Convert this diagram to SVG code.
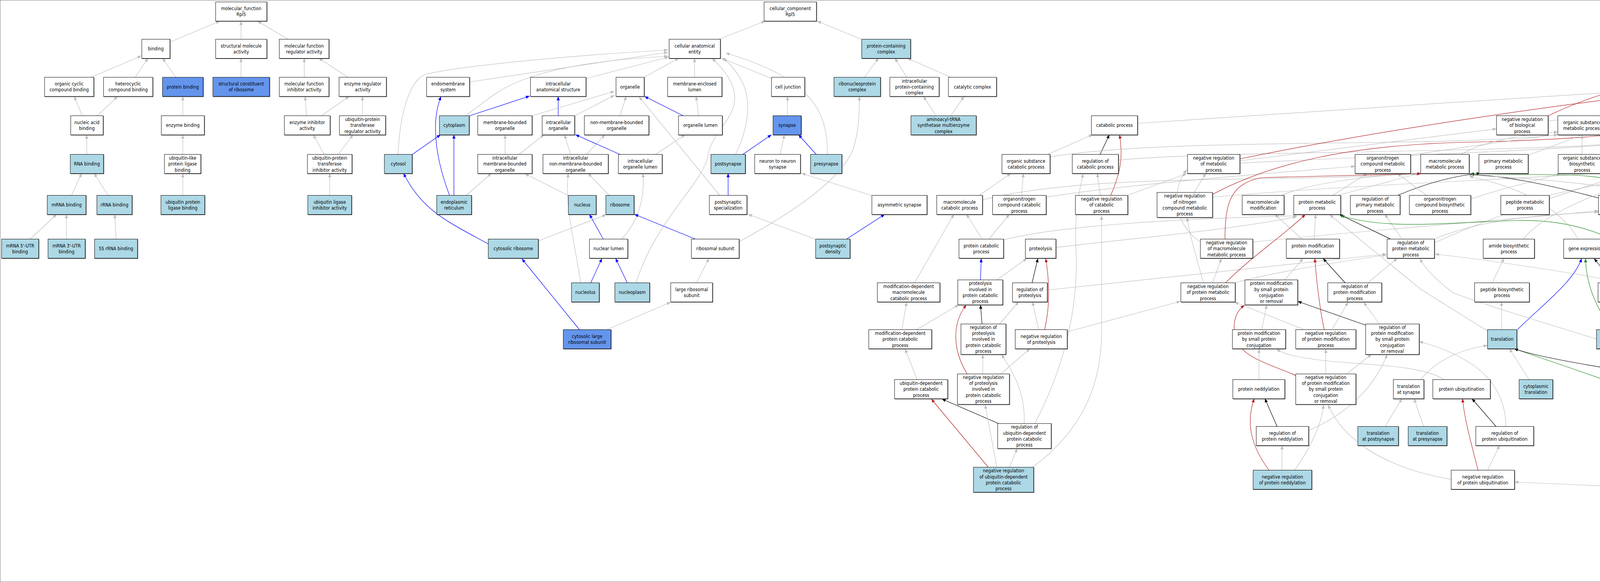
<svg xmlns="http://www.w3.org/2000/svg" width="7540" height="1491" viewBox="0 0 7540 1491">
<style>
rect{stroke:#000;stroke-width:1}
g[id^="n-"] rect{filter:drop-shadow(1.3px 1.3px 0 #555)}
.w{fill:#fff}.lb{fill:#ADD8E6}.cf{fill:#6495ED}
text{font-family:"DejaVu Sans Condensed","DejaVu Sans","Liberation Sans Narrow",sans-serif;font-stretch:condensed;font-size:12px;text-anchor:middle;fill:#000}
#edges path{fill:none;stroke-width:1.2}
.g{stroke:#BEBEBE;marker-end:url(#ag)}.b{stroke:#0000FF;marker-end:url(#ab)}.k{stroke:#000;marker-end:url(#ak)}.r{stroke:#B22222;marker-end:url(#ar)}.gr{stroke:#228B22;marker-end:url(#agr)}
</style>
<defs>
<marker id="ag" viewBox="0 0 10 8" refX="10" refY="4" markerWidth="10" markerHeight="8" markerUnits="userSpaceOnUse" orient="auto"><path d="M0,0L10,4L0,8z" fill="#BEBEBE"/></marker>
<marker id="ab" viewBox="0 0 10 8" refX="10" refY="4" markerWidth="10" markerHeight="8" markerUnits="userSpaceOnUse" orient="auto"><path d="M0,0L10,4L0,8z" fill="#0000FF"/></marker>
<marker id="ak" viewBox="0 0 10 8" refX="10" refY="4" markerWidth="10" markerHeight="8" markerUnits="userSpaceOnUse" orient="auto"><path d="M0,0L10,4L0,8z" fill="#000"/></marker>
<marker id="ar" viewBox="0 0 10 8" refX="10" refY="4" markerWidth="10" markerHeight="8" markerUnits="userSpaceOnUse" orient="auto"><path d="M0,0L10,4L0,8z" fill="#B22222"/></marker>
<marker id="agr" viewBox="0 0 10 8" refX="10" refY="4" markerWidth="10" markerHeight="8" markerUnits="userSpaceOnUse" orient="auto"><path d="M0,0L10,4L0,8z" fill="#228B22"/></marker>
</defs>
<rect x="0" y="0" width="7540" height="1491" fill="#fff" stroke="none"/>
<g id="edges">
<path class="g" d="M435,108L563,54"/>
<path class="g" d="M617,101L617,54"/>
<path class="g" d="M738,101L659,54"/>
<path class="g" d="M233,198L362,143"/>
<path class="g" d="M346,198L379,149"/>
<path class="g" d="M450,198L416,149"/>
<path class="g" d="M617,198L617,149"/>
<path class="g" d="M779,198L779,149"/>
<path class="g" d="M891,198L816,149"/>
<path class="g" d="M211,297L190,247"/>
<path class="g" d="M249,297L301,247"/>
<path class="g" d="M468,297L468,247"/>
<path class="g" d="M785,297L781,247"/>
<path class="g" d="M822,297L894,247"/>
<path class="g" d="M928,297L928,247"/>
<path class="g" d="M222,396L222,345"/>
<path class="g" d="M468,396L468,345"/>
<path class="g" d="M830,396L802,345"/>
<path class="g" d="M866,396L904,345"/>
<path class="g" d="M183,501L209,444"/>
<path class="g" d="M277,501L241,444"/>
<path class="g" d="M468,501L468,444"/>
<path class="g" d="M844,501L844,444"/>
<path class="g" d="M78,612L145,549"/>
<path class="g" d="M170,612L170,549"/>
<path class="g" d="M297,612L294,549"/>
<path class="g" d="M1839,101L1959,54"/>
<path class="g" d="M2206,101L2092,54"/>
<path class="g" d="M1019,396C1025,260 1060,200 1090,190C1200,165 1500,140 1710,128"/>
<path class="g" d="M1202,210L1710,134"/>
<path class="g" d="M1191,297L1256,249C1300,215 1400,160 1710,144"/>
<path class="g" d="M1500,201L1712,146"/>
<path class="g" d="M1649,198L1738,149"/>
<path class="g" d="M1778,198L1778,149"/>
<path class="g" d="M1975,201L1847,149"/>
<path class="g" d="M1628,725C1680,560 1800,470 1812,400C1820,340 1890,300 1880,240C1875,200 1840,165 1823,150"/>
<path class="g" d="M1883,396C1915,330 1925,260 1900,210C1885,180 1865,160 1851,150"/>
<path class="g" d="M2118,396C2120,290 2080,200 1858,136"/>
<path class="g" d="M2213,198L2249,149"/>
<path class="g" d="M2321,198L2291,149"/>
<path class="g" d="M2434,198L2323,149"/>
<path class="b" d="M1429,297L1429,247"/>
<path class="b" d="M1201,297L1356,246"/>
<path class="g" d="M1360,297L1573,234"/>
<path class="g" d="M1471,297L1573,244"/>
<path class="g" d="M1587,297L1603,247"/>
<path class="b" d="M1750,297L1650,247"/>
<path class="g" d="M1789,297L1782,247"/>
<path class="g" d="M2016,297L2016,247"/>
<path class="g" d="M2396,297L2364,247"/>
<path class="g" d="M2434,297L2468,247"/>
<path class="b" d="M1055,396L1128,345"/>
<path class="g" d="M1293,396L1293,345"/>
<path class="g" d="M1328,396L1393,345"/>
<path class="g" d="M1461,396L1445,345"/>
<path class="g" d="M1501,396L1549,345"/>
<path class="b" d="M1588,396L1473,345"/>
<path class="g" d="M1678,396L1754,345"/>
<path class="b" d="M1901,396L1975,345"/>
<path class="g" d="M1997,396L2008,345"/>
<path class="b" d="M2090,396L2044,345"/>
<path class="b" d="M1151,501C1120,420 1100,320 1129,247"/>
<path class="b" d="M1162,501L1162,345"/>
<path class="g" d="M1193,501L1258,444"/>
<path class="g" d="M1455,501L1344,445"/>
<path class="g" d="M1560,501L1505,444"/>
<path class="b" d="M1864,501L1864,444"/>
<path class="g" d="M1843,501L1636,248"/>
<path class="g" d="M2232,501L2052,444"/>
<path class="g" d="M1378,617L1552,550"/>
<path class="b" d="M1250,625C1150,570 1080,540 1033,444"/>
<path class="b" d="M1544,612L1509,549"/>
<path class="g" d="M1592,612C1640,560 1650,500 1646,444"/>
<path class="b" d="M1779,612L1624,549"/>
<path class="g" d="M1891,620C2000,560 2150,470 2185,380C2200,330 2200,280 2200,247"/>
<path class="g" d="M2086,612L1915,549"/>
<path class="b" d="M2168,612L2265,549"/>
<path class="g" d="M1487,725C1470,620 1445,520 1455,444"/>
<path class="b" d="M1512,725L1541,662"/>
<path class="b" d="M1606,725L1576,662"/>
<path class="g" d="M1783,725L1815,662"/>
<path class="b" d="M1483,844L1336,663"/>
<path class="g" d="M1555,844L1717,774"/>
<path class="g" d="M2506,501L2588,444"/>
<path class="g" d="M2515,512C2800,440 3300,470 3640,444"/>
<path class="g" d="M2341,725L2442,549"/>
<path class="g" d="M2514,612L2474,549"/>
<path class="b" d="M2510,717L2512,662"/>
<path class="g" d="M2309,844L2321,774"/>
<path class="g" d="M2347,844L2454,781"/>
<path class="k" d="M2514,830L2510,781"/>
<path class="g" d="M2348,973L2317,894"/>
<path class="r" d="M2476,958C2440,900 2435,830 2474,781"/>
<path class="g" d="M2516,958L2516,908"/>
<path class="k" d="M2556,1085L2411,1022"/>
<path class="r" d="M2530,1197L2384,1022"/>
<path class="g" d="M2532,612L2584,549"/>
<path class="g" d="M2568,615C2700,580 3000,560 3320,553"/>
<path class="g" d="M2703,634C2900,610 3150,590 3320,555"/>
<path class="g" d="M2552,717L2629,662"/>
<path class="k" d="M2642,725L2657,662"/>
<path class="r" d="M2674,845C2690,780 2685,710 2677,662"/>
<path class="g" d="M2681,743L3549,651"/>
<path class="g" d="M2559,830L2608,773"/>
<path class="g" d="M2659,845L2643,773"/>
<path class="g" d="M2732,850L3022,772"/>
<path class="g" d="M2562,958L2637,893"/>
<path class="g" d="M2622,1085C2625,1000 2590,950 2564,908"/>
<path class="g" d="M2584,1197L2604,1149"/>
<path class="g" d="M2552,1197L2522,1037"/>
<path class="g" d="M2649,1085C2720,950 2760,800 2755,650C2750,560 2760,500 2773,445"/>
<path class="g" d="M2645,1196C2760,1110 2820,1000 2820,850L2820,553"/>
<path class="g" d="M2912,316C3300,290 3900,250 4308,225"/>
<path class="g" d="M2681,396L2797,345"/>
<path class="k" d="M2816,396L2840,345"/>
<path class="r" d="M2843,501C2870,440 2875,400 2866,345"/>
<path class="g" d="M2688,402C3000,350 3700,380 3988,345"/>
<path class="g" d="M2863,410C3200,380 4000,400 4390,345"/>
<path class="r" d="M3174,407C3500,340 3900,280 4308,231"/>
<path class="g" d="M3174,412L3831,330"/>
<path class="g" d="M3174,418C3500,400 4100,385 4398,345"/>
<path class="g" d="M2615,501L2620,444"/>
<path class="g" d="M2678,505C2900,470 3300,440 3469,426"/>
<path class="g" d="M2817,501L2809,444"/>
<path class="g" d="M2887,500L3038,445"/>
<path class="g" d="M3057,493L3087,444"/>
<path class="r" d="M3104,498C3250,420 3450,370 3772,364C3950,360 4100,350 4228,335"/>
<path class="g" d="M3104,505C3500,470 3900,460 4140,440"/>
<path class="g" d="M3280,501C3350,470 3500,450 3625,445"/>
<path class="g" d="M3411,501L3501,444"/>
<path class="g" d="M3424,501L3633,444"/>
<path class="k" d="M3577,501C3650,470 3720,450 3790,444"/>
<path class="g" d="M3652,501L3577,444"/>
<path class="g" d="M3765,510C3850,480 3950,460 3995,444"/>
<path class="g" d="M3611,397C3800,370 3900,355 3988,345"/>
<path class="g" d="M3740,396C3800,360 3900,345 3988,338"/>
<path class="g" d="M3073,620C3000,570 3000,480 3038,435"/>
<path class="r" d="M3136,612C3136,520 3150,470 3230,455L3638,445"/>
<path class="g" d="M3207,620C3500,590 3900,560 4092,540"/>
<path class="g" d="M3332,612L3264,549"/>
<path class="g" d="M3364,612L3368,549"/>
<path class="k" d="M3559,612L3428,549"/>
<path class="g" d="M3589,612L3545,549"/>
<path class="g" d="M3672,612C3800,560 3950,550 4092,543"/>
<path class="g" d="M3672,622C3900,520 4100,470 4160,444"/>
<path class="gr" d="M4278,725C4180,620 4050,560 3880,565C3700,570 3550,590 3432,552"/>
<path class="gr" d="M4343,612C4300,520 4200,450 4000,448L3763,445"/>
<path class="g" d="M3104,725L3127,662"/>
<path class="g" d="M3081,725C3060,650 3045,600 3039,557"/>
<path class="r" d="M3137,725C3200,660 3290,600 3342,549"/>
<path class="g" d="M3162,724C3250,700 3400,675 3549,653"/>
<path class="g" d="M3288,718L3336,662"/>
<path class="k" d="M3444,725L3387,662"/>
<path class="g" d="M3501,725L3577,662"/>
<path class="r" d="M3390,844C3380,800 3370,720 3366,662"/>
<path class="g" d="M3230,844L3243,781"/>
<path class="g" d="M3338,844L3160,774"/>
<path class="g" d="M3410,844L3451,774"/>
<path class="k" d="M3496,833L3322,772"/>
<path class="g" d="M3531,830L3491,774"/>
<path class="r" d="M3317,962C3270,940 3190,920 3170,880C3150,840 3160,800 3186,782"/>
<path class="g" d="M3394,958L3394,894"/>
<path class="g" d="M3447,958L3511,908"/>
<path class="g" d="M3223,973L3223,894"/>
<path class="k" d="M3270,1094L3238,1021"/>
<path class="g" d="M3350,1103C3450,1060 3520,990 3551,908"/>
<path class="r" d="M3249,1205C3200,1140 3190,1080 3211,1021"/>
<path class="g" d="M3282,1205L3282,1141"/>
<path class="g" d="M3314,1205C3360,1140 3385,1080 3388,1037"/>
<path class="g" d="M3636,973C3680,920 3740,895 3808,885"/>
<path class="g" d="M3545,1094L3589,1021"/>
<path class="g" d="M3645,1094L3620,1021"/>
<path class="g" d="M3698,973C3640,935 3500,935 3400,925C3320,915 3290,910 3268,894"/>
<path class="g" d="M3715,1228C3550,1200 3440,1130 3400,1037"/>
<path class="r" d="M3784,1205C3770,1150 3750,1080 3744,1021"/>
<path class="k" d="M3831,1094L3768,1021"/>
<path class="g" d="M3855,1094C3855,1000 3800,920 3633,875"/>
<path class="g" d="M3808,1205L3839,1141"/>
<path class="g" d="M6220,1337L3877,1235"/>
<path class="g" d="M3808,848L3637,741L3404,550"/>
<path class="g" d="M4434,214C4900,150 5500,80 6137,38"/>
<path class="r" d="M3963,297C4200,180 4700,100 5100,80C5500,55 5900,32 6137,31"/>
<path class="g" d="M3963,310C4300,270 5000,265 6240,240"/>
<path class="g" d="M4114,301L4307,244"/>
<path class="g" d="M4313,297L4351,247"/>
<path class="k" d="M4429,297L4391,247"/>
<path class="g" d="M4537,297L4423,247"/>
<path class="g" d="M4509,305C4800,270 5600,262 6240,244"/>
<path class="g" d="M5519,316C5200,290 4800,260 4434,230"/>
<path class="g" d="M5641,316L6491,234"/>
<path class="g" d="M3913,397C4100,330 4200,280 4307,246"/>
<path class="g" d="M4050,396L4050,345"/>
<path class="g" d="M4112,400C4300,370 4450,355 4524,344"/>
<path class="k" d="M4226,396L4270,345"/>
<path class="g" d="M4268,405C4330,380 4370,360 4395,345"/>
<path class="g" d="M4337,396L4315,345"/>
<path class="k" d="M4580,396L4580,345"/>
<path class="g" d="M4544,396L4483,345"/>
<path class="g" d="M4725,396L4632,345"/>
<path class="g" d="M4840,400C5100,380 5350,350 5519,335"/>
<path class="g" d="M4864,405C4500,370 4200,355 4114,345"/>
<path class="gr" d="M4584,493L4339,347"/>
<path class="g" d="M4564,505C4400,480 4300,460 4268,444"/>
<path class="g" d="M4706,500C4900,460 5100,440 5230,444"/>
<path class="gr" d="M4885,501C4800,470 4730,450 4692,431C4650,400 4620,370 4600,347"/>
<path class="g" d="M4883,510C4750,470 4650,450 4624,444"/>
<path class="g" d="M5011,505C5100,480 5200,460 5240,444"/>
<path class="gr" d="M5383,605C5420,540 5400,470 5250,455L4841,445"/>
<path class="gr" d="M5198,410C5000,350 4700,290 4434,234"/>
<path class="gr" d="M4803,612C4780,540 4700,480 4600,470C4500,460 4450,440 4411,433"/>
<path class="g" d="M3966,500C4100,470 4200,450 4283,443"/>
<path class="k" d="M4092,507C3950,470 3850,450 3763,447"/>
<path class="g" d="M4217,500C4300,440 4360,380 4379,345"/>
<path class="g" d="M4292,508C4100,470 3900,455 3761,449"/>
<path class="g" d="M4370,501C4450,430 4530,400 4560,347"/>
<path class="k" d="M4451,501L4383,444"/>
<path class="g" d="M4500,501L4470,345"/>
<path class="g" d="M4330,612L4215,549"/>
<path class="g" d="M4440,620C4700,560 5000,500 5200,444"/>
<path class="k" d="M4467,605L4383,549"/>
<path class="g" d="M4520,605C4560,540 4580,480 4580,444"/>
<path class="g" d="M4464,615L4217,545"/>
<path class="g" d="M4760,612L4539,549"/>
<path class="g" d="M4040,612C4000,540 3900,480 3761,452"/>
<path class="b" d="M3885,844C3950,780 4030,720 4049,662"/>
<path class="gr" d="M4126,844C4080,780 4060,720 4059,662"/>
<path class="k" d="M4130,725L4081,662"/>
<path class="b" d="M5090,864C4800,840 4520,780 4400,720C4300,680 4200,660 4118,651"/>
<path class="g" d="M4150,725L4154,549"/>
<path class="g" d="M4229,740C4050,700 3800,665 3674,651"/>
<path class="g" d="M4290,725L4325,662"/>
<path class="gr" d="M4612,718C4610,660 4560,620 4500,610C4440,600 4410,580 4395,549"/>
<path class="g" d="M4560,718L4530,670"/>
<path class="g" d="M4544,730L4440,662"/>
<path class="g" d="M3820,725L3850,662"/>
<path class="g" d="M3900,612C3950,550 4100,480 4290,440"/>
<path class="g" d="M3844,844L3844,773"/>
<path class="g" d="M3915,973L3864,893"/>
<path class="gr" d="M4442,1099C4200,1000 3950,920 3876,893"/>
<path class="k" d="M4461,992C4200,960 3950,920 3876,893"/>
<path class="g" d="M4467,973L4351,893"/>
<path class="g" d="M4506,973L4510,670"/>
<path class="g" d="M4461,985C4200,900 3850,800 3720,750C3680,720 3650,690 3635,663"/>
<path class="g" d="M4545,975C4640,880 4690,760 4680,650C4670,600 4560,570 4530,549"/>
<path class="g" d="M4505,1094L4505,1021"/>
<path class="g" d="M4467,1094L4190,893"/>
<path class="g" d="M4483,1094C4450,950 4400,850 4339,774"/>
<path class="g" d="M4528,1094C4560,950 4600,850 4608,781"/>
<path class="g" d="M4550,1094C4700,950 5000,790 5265,663"/>
<path class="g" d="M4540,1094C4650,950 4750,800 4797,662"/>
<path class="g" d="M4150,844L4150,773"/>
<path class="g" d="M4198,844C4300,830 4390,790 4395,741L4387,662"/>
<path class="g" d="M4276,844L4186,773"/>
<path class="g" d="M6200,101L6200,54"/>
<path class="g" d="M6133,198L6178,149"/>
<path class="g" d="M6282,198L6230,149"/>
<path class="k" d="M6307,198C6310,120 6290,80 6262,54"/>
<path class="g" d="M6497,198L6263,44"/>
<path class="g" d="M6789,198L6265,50"/>
<path class="gr" d="M5985,297C6020,200 6080,120 6170,54"/>
<path class="g" d="M6035,299L6242,239"/>
<path class="g" d="M6113,297L6113,247"/>
<path class="g" d="M6113,396L6113,345"/>
<path class="g" d="M5172,397L5518,335"/>
<path class="g" d="M5030,405C4800,380 4500,370 4359,345"/>
<path class="g" d="M5198,400C5000,370 4700,350 4509,345"/>
<path class="g" d="M5325,405C5600,360 5800,340 5908,325"/>
<path class="g" d="M5462,396L5538,345"/>
<path class="g" d="M5579,396L5579,345"/>
<path class="k" d="M5691,396L5619,345"/>
<path class="g" d="M5667,405C5300,370 4800,350 4509,348"/>
<path class="g" d="M5789,407L6346,330"/>
<path class="g" d="M5865,397L5643,340"/>
<path class="g" d="M6200,397L6037,344"/>
<path class="gr" d="M6285,396C6300,320 6360,270 6491,231"/>
<path class="g" d="M6296,396L6364,345"/>
<path class="g" d="M5108,501L5104,444"/>
<path class="g" d="M5036,510C4950,480 4880,460 4840,450"/>
<path class="k" d="M5269,505C5150,490 5000,475 4841,447"/>
<path class="g" d="M5407,500L5667,443"/>
<path class="g" d="M5269,512C5000,480 4700,460 4624,444"/>
<path class="g" d="M5526,501L5456,444"/>
<path class="g" d="M5565,501L5575,444"/>
<path class="g" d="M5484,510C5300,470 5200,455 5172,444"/>
<path class="g" d="M5484,518C5200,480 5050,450 5006,444"/>
<path class="gr" d="M5757,501C5800,440 5830,380 5780,350C5740,330 5680,325 5643,325"/>
<path class="g" d="M5727,501L5727,444"/>
<path class="g" d="M5662,505C5500,470 5360,455 5325,444"/>
<path class="g" d="M5789,505L6198,443"/>
<path class="k" d="M5940,501L5940,444"/>
<path class="g" d="M5894,501L5780,444"/>
<path class="g" d="M6073,501L5981,444"/>
<path class="gr" d="M5751,612C5800,550 5850,480 5908,444"/>
<path class="g" d="M5726,612L5726,549"/>
<path class="g" d="M5773,612L5892,549"/>
<path class="k" d="M5977,612L6073,549"/>
<path class="g" d="M5938,612L5938,549"/>
<path class="g" d="M6100,612L6109,549"/>
<path class="g" d="M6280,612L6352,549"/>
<path class="g" d="M6340,501C6300,400 6230,250 6207,149"/>
<path class="g" d="M6376,297L6332,247"/>
<path class="k" d="M6437,297L6509,247"/>
<path class="g" d="M6477,299L6360,247"/>
<path class="g" d="M6618,297L6573,247"/>
<path class="k" d="M6831,297L6831,247"/>
<path class="g" d="M6786,306L6368,234"/>
<path class="g" d="M6927,297L6863,247"/>
<path class="g" d="M6899,297L6602,230"/>
<path class="g" d="M7057,297L6602,232"/>
<path class="k" d="M6465,396L6497,345"/>
<path class="g" d="M6404,400C6330,380 6300,320 6308,247"/>
<path class="k" d="M6599,396L6627,345"/>
<path class="g" d="M6539,396L6449,345"/>
<path class="b" d="M6680,396L6553,345"/>
<path class="b" d="M6718,396L6670,345"/>
<path class="b" d="M6794,396L6903,345"/>
<path class="g" d="M6745,396C6750,320 6700,260 6606,234"/>
<path class="g" d="M6676,397L6453,344"/>
<path class="g" d="M7122,396L7122,345"/>
<path class="g" d="M7242,396L7164,345"/>
<path class="g" d="M6599,501L6493,444"/>
<path class="g" d="M6628,501L6600,444"/>
<path class="k" d="M6666,501L6718,444"/>
<path class="g" d="M6698,501C6790,460 6835,420 6835,345"/>
<path class="g" d="M6784,501L6758,444"/>
<path class="g" d="M7160,501L7245,444"/>
<path class="b" d="M7251,501L7163,444"/>
<path class="g" d="M7285,501L7283,444"/>
<path class="g" d="M7413,501L7323,444"/>
<path class="g" d="M7009,612C7010,530 7040,480 7080,444"/>
<path class="g" d="M6395,612L6387,549"/>
<path class="g" d="M6509,612L6423,549"/>
<path class="g" d="M6682,612L6658,549"/>
<path class="k" d="M6720,612L6774,549"/>
<path class="g" d="M6839,612L6812,549"/>
<path class="g" d="M7159,612L7136,549"/>
<path class="g" d="M7196,612L7261,549"/>
<path class="g" d="M7317,612L7299,549"/>
<path class="g" d="M7353,612L7421,549"/>
<path class="g" d="M7468,612L7458,549"/>
<path class="k" d="M6015,725L6073,662"/>
<path class="g" d="M5981,725L5952,662"/>
<path class="g" d="M5776,725L5743,662"/>
<path class="g" d="M5824,725L5904,662"/>
<path class="gr" d="M5794,725C5800,650 5850,580 5950,565C6000,560 6030,555 6045,549"/>
<path class="g" d="M6204,735L6344,663"/>
<path class="g" d="M6316,725L6372,662"/>
<path class="g" d="M6262,725L6262,662"/>
<path class="g" d="M6477,725L6425,662"/>
<path class="g" d="M6511,725L6532,662"/>
<path class="g" d="M6589,723L6453,662"/>
<path class="g" d="M6754,717L6718,662"/>
<path class="k" d="M6798,717L6835,662"/>
<path class="g" d="M6951,725L6991,662"/>
<path class="g" d="M7167,725L7167,662"/>
<path class="b" d="M7281,725L7076,662"/>
<path class="g" d="M7333,725L7329,662"/>
<path class="g" d="M7369,725L7442,662"/>
<path class="g" d="M5151,844L5170,773"/>
<path class="g" d="M5259,844L5205,773"/>
<path class="g" d="M5178,725L5178,662"/>
<path class="g" d="M5241,617L5484,545"/>
<path class="g" d="M5199,973L5159,893"/>
<path class="g" d="M5227,973L5265,893"/>
<path class="g" d="M5339,973L5300,893"/>
<path class="g" d="M5324,1094L5245,1021"/>
<path class="g" d="M5353,1094L5353,1021"/>
<path class="b" d="M5410,1113C5800,1080 6000,1050 6117,1035C6300,985 6500,930 6570,910C6620,880 6620,830 6680,800C6750,780 6820,790 6875,773"/>
<path class="gr" d="M5889,844C5880,760 5950,700 6038,662"/>
<path class="g" d="M5913,844L5971,773"/>
<path class="g" d="M5872,844L5816,773"/>
<path class="g" d="M6025,844L6005,773"/>
<path class="g" d="M6057,844L6120,773"/>
<path class="g" d="M6161,844L6149,773"/>
<path class="g" d="M6231,844L6425,773"/>
<path class="g" d="M6006,973L5922,893"/>
<path class="g" d="M6034,973L6034,893"/>
<path class="g" d="M6061,973L6141,893"/>
<path class="g" d="M5339,605L5339,549"/>
<path class="g" d="M5403,622L5659,553"/>
<path class="g" d="M5275,620C5150,580 5050,560 5011,549"/>
<path class="g" d="M6402,1092L6399,662"/>
<path class="g" d="M6499,844L6499,773"/>
<path class="g" d="M6528,844L6606,773"/>
<path class="g" d="M6682,844L6651,773"/>
<path class="b" d="M6994,844L6954,773"/>
<path class="g" d="M7013,844L7014,662"/>
<path class="b" d="M7120,844L6983,773"/>
<path class="g" d="M7166,844L7166,773"/>
<path class="b" d="M7136,973L7042,893"/>
<path class="b" d="M7166,973L7166,893"/>
<path class="g" d="M7190,973C7250,880 7300,820 7323,773"/>
<path class="g" d="M6529,973L6654,893"/>
<path class="g" d="M6644,973L6680,893"/>
<path class="g" d="M6606,973L6529,893"/>
<path class="g" d="M6761,973L6714,893"/>
<path class="g" d="M6872,973L6740,893"/>
<path class="g" d="M6556,1094L6511,1021"/>
<path class="g" d="M6585,1094L6618,1021"/>
<path class="g" d="M6720,1094L6658,1021"/>
<path class="g" d="M6750,1094L6766,1021"/>
<path class="g" d="M6843,1094L6680,1021"/>
<path class="g" d="M6911,1094L6913,1021"/>
<path class="g" d="M6286,1204L6292,773"/>
<path class="g" d="M6312,1205L6375,1141"/>
<path class="g" d="M6425,1197L6410,1141"/>
<path class="g" d="M6286,1309L6286,1254"/>
<path class="g" d="M6330,1309L6391,1261"/>
<path class="g" d="M6434,1317L6434,1261"/>
<path class="g" d="M6338,1421L6310,1373"/>
<path class="g" d="M6382,1421L6415,1366"/>
</g>
<g id="n-mf"><rect class="w" x="552" y="5" width="131" height="49"/><text x="617.5" y="26.15"><tspan x="617.5">molecular_function</tspan><tspan x="617.5" dy="15.3">Rpl5</tspan></text></g>
<g id="n-binding"><rect class="w" x="363" y="100.5" width="72" height="49"/><text x="399" y="129.3">binding</text></g>
<g id="n-sma"><rect class="w" x="552" y="100.5" width="131" height="49"/><text x="617.5" y="121.65"><tspan x="617.5">structural molecule</tspan><tspan x="617.5" dy="15.3">activity</tspan></text></g>
<g id="n-mfra"><rect class="w" x="715" y="100.5" width="127" height="49"/><text x="778.5" y="121.65"><tspan x="778.5">molecular function</tspan><tspan x="778.5" dy="15.3">regulator activity</tspan></text></g>
<g id="n-occb"><rect class="w" x="114" y="198" width="126" height="49"/><text x="177" y="219.15"><tspan x="177">organic cyclic</tspan><tspan x="177" dy="15.3">compound binding</tspan></text></g>
<g id="n-hcb"><rect class="w" x="265" y="198" width="126" height="49"/><text x="328" y="219.15"><tspan x="328">heterocyclic</tspan><tspan x="328" dy="15.3">compound binding</tspan></text></g>
<g id="n-pb"><rect class="cf" x="416" y="198" width="104" height="49"/><text x="468" y="226.8">protein binding</text></g>
<g id="n-scr"><rect class="cf" x="545" y="198" width="145" height="49"/><text x="617.5" y="219.15"><tspan x="617.5">structural constituent</tspan><tspan x="617.5" dy="15.3">of ribosome</tspan></text></g>
<g id="n-mfia"><rect class="w" x="715" y="198" width="127" height="49"/><text x="778.5" y="219.15"><tspan x="778.5">molecular function</tspan><tspan x="778.5" dy="15.3">inhibitor activity</tspan></text></g>
<g id="n-era"><rect class="w" x="868" y="198" width="121" height="49"/><text x="928.5" y="219.15"><tspan x="928.5">enzyme regulator</tspan><tspan x="928.5" dy="15.3">activity</tspan></text></g>
<g id="n-nab"><rect class="w" x="181" y="296.5" width="83" height="49"/><text x="222.5" y="317.65"><tspan x="222.5">nucleic acid</tspan><tspan x="222.5" dy="15.3">binding</tspan></text></g>
<g id="n-eb"><rect class="w" x="413" y="296.5" width="110" height="49"/><text x="468" y="325.3">enzyme binding</text></g>
<g id="n-eia"><rect class="w" x="728" y="296.5" width="117" height="49"/><text x="786.5" y="317.65"><tspan x="786.5">enzyme inhibitor</tspan><tspan x="786.5" dy="15.3">activity</tspan></text></g>
<g id="n-uptra"><rect class="w" x="869" y="296.5" width="118" height="49"/><text x="928" y="310"><tspan x="928">ubiquitin-protein</tspan><tspan x="928" dy="15.3">transferase</tspan><tspan x="928" dy="15.3">regulator activity</tspan></text></g>
<g id="n-rnab"><rect class="lb" x="180" y="395.5" width="85" height="49"/><text x="222.5" y="424.3">RNA binding</text></g>
<g id="n-ulplb"><rect class="w" x="421" y="395.5" width="93" height="49"/><text x="467.5" y="409"><tspan x="467.5">ubiquitin-like</tspan><tspan x="467.5" dy="15.3">protein ligase</tspan><tspan x="467.5" dy="15.3">binding</tspan></text></g>
<g id="n-uptia"><rect class="w" x="787" y="395.5" width="114" height="49"/><text x="844" y="409"><tspan x="844">ubiquitin-protein</tspan><tspan x="844" dy="15.3">transferase</tspan><tspan x="844" dy="15.3">inhibitor activity</tspan></text></g>
<g id="n-mrnab"><rect class="lb" x="121" y="500.5" width="99" height="49"/><text x="170.5" y="529.3">mRNA binding</text></g>
<g id="n-rrnab"><rect class="lb" x="248" y="500.5" width="90" height="49"/><text x="293" y="529.3">rRNA binding</text></g>
<g id="n-uplb"><rect class="lb" x="412" y="500.5" width="112" height="49"/><text x="468" y="521.65"><tspan x="468">ubiquitin protein</tspan><tspan x="468" dy="15.3">ligase binding</tspan></text></g>
<g id="n-ulia"><rect class="lb" x="788" y="500.5" width="112" height="49"/><text x="844" y="521.65"><tspan x="844">ubiquitin ligase</tspan><tspan x="844" dy="15.3">inhibitor activity</tspan></text></g>
<g id="n-m5"><rect class="lb" x="4" y="612.5" width="95" height="49"/><text x="51.5" y="633.65"><tspan x="51.5">mRNA 5'-UTR</tspan><tspan x="51.5" dy="15.3">binding</tspan></text></g>
<g id="n-m3"><rect class="lb" x="123" y="612.5" width="95" height="49"/><text x="170.5" y="633.65"><tspan x="170.5">mRNA 3'-UTR</tspan><tspan x="170.5" dy="15.3">binding</tspan></text></g>
<g id="n-s5"><rect class="lb" x="242" y="612.5" width="110" height="49"/><text x="297" y="641.3">5S rRNA binding</text></g>
<g id="n-cc"><rect class="w" x="1956" y="5" width="134" height="49"/><text x="2023" y="26.15"><tspan x="2023">cellular_component</tspan><tspan x="2023" dy="15.3">Rpl5</tspan></text></g>
<g id="n-cae"><rect class="w" x="1713" y="100.5" width="131" height="49"/><text x="1778.5" y="121.65"><tspan x="1778.5">cellular anatomical</tspan><tspan x="1778.5" dy="15.3">entity</tspan></text></g>
<g id="n-pcc"><rect class="lb" x="2206" y="100.5" width="125" height="49"/><text x="2268.5" y="121.65"><tspan x="2268.5">protein-containing</tspan><tspan x="2268.5" dy="15.3">complex</tspan></text></g>
<g id="n-ems"><rect class="w" x="1092" y="198" width="110" height="49"/><text x="1147" y="219.15"><tspan x="1147">endomembrane</tspan><tspan x="1147" dy="15.3">system</tspan></text></g>
<g id="n-ias"><rect class="w" x="1358" y="198" width="142" height="49"/><text x="1429" y="219.15"><tspan x="1429">intracellular</tspan><tspan x="1429" dy="15.3">anatomical structure</tspan></text></g>
<g id="n-organelle"><rect class="w" x="1577" y="198" width="72" height="49"/><text x="1613" y="226.8">organelle</text></g>
<g id="n-mel"><rect class="w" x="1709" y="198" width="139" height="49"/><text x="1778.5" y="219.15"><tspan x="1778.5">membrane-enclosed</tspan><tspan x="1778.5" dy="15.3">lumen</tspan></text></g>
<g id="n-cj"><rect class="w" x="1975" y="198" width="85" height="49"/><text x="2017.5" y="226.8">cell junction</text></g>
<g id="n-rnpc"><rect class="lb" x="2135" y="198" width="119" height="49"/><text x="2194.5" y="219.15"><tspan x="2194.5">ribonucleoprotein</tspan><tspan x="2194.5" dy="15.3">complex</tspan></text></g>
<g id="n-ipcc"><rect class="w" x="2278" y="198" width="126" height="49"/><text x="2341" y="211.5"><tspan x="2341">intracellular</tspan><tspan x="2341" dy="15.3">protein-containing</tspan><tspan x="2341" dy="15.3">complex</tspan></text></g>
<g id="n-catc"><rect class="w" x="2428" y="198" width="123" height="49"/><text x="2489.5" y="226.8">catalytic complex</text></g>
<g id="n-cytoplasm"><rect class="lb" x="1125" y="296.5" width="76" height="49"/><text x="1163" y="325.3">cytoplasm</text></g>
<g id="n-mbo"><rect class="w" x="1223" y="296.5" width="139" height="49"/><text x="1292.5" y="317.65"><tspan x="1292.5">membrane-bounded</tspan><tspan x="1292.5" dy="15.3">organelle</tspan></text></g>
<g id="n-io"><rect class="w" x="1388" y="296.5" width="83" height="49"/><text x="1429.5" y="317.65"><tspan x="1429.5">intracellular</tspan><tspan x="1429.5" dy="15.3">organelle</tspan></text></g>
<g id="n-nmbo"><rect class="w" x="1496" y="296.5" width="165" height="49"/><text x="1578.5" y="317.65"><tspan x="1578.5">non-membrane-bounded</tspan><tspan x="1578.5" dy="15.3">organelle</tspan></text></g>
<g id="n-ol"><rect class="w" x="1737" y="296.5" width="112" height="49"/><text x="1793" y="325.3">organelle lumen</text></g>
<g id="n-synapse"><rect class="cf" x="1979" y="296.5" width="72" height="49"/><text x="2015" y="325.3">synapse</text></g>
<g id="n-atsmc"><rect class="lb" x="2332" y="296.5" width="167" height="49"/><text x="2415.5" y="310"><tspan x="2415.5">aminoacyl-tRNA</tspan><tspan x="2415.5" dy="15.3">synthetase multienzyme</tspan><tspan x="2415.5" dy="15.3">complex</tspan></text></g>
<g id="n-cytosol"><rect class="lb" x="984" y="395.5" width="71" height="49"/><text x="1019.5" y="424.3">cytosol</text></g>
<g id="n-imbo"><rect class="w" x="1223" y="395.5" width="139" height="49"/><text x="1292.5" y="409"><tspan x="1292.5">intracellular</tspan><tspan x="1292.5" dy="15.3">membrane-bounded</tspan><tspan x="1292.5" dy="15.3">organelle</tspan></text></g>
<g id="n-inmbo"><rect class="w" x="1390" y="395.5" width="167" height="49"/><text x="1473.5" y="409"><tspan x="1473.5">intracellular</tspan><tspan x="1473.5" dy="15.3">non-membrane-bounded</tspan><tspan x="1473.5" dy="15.3">organelle</tspan></text></g>
<g id="n-iol"><rect class="w" x="1583" y="395.5" width="112" height="49"/><text x="1639" y="416.65"><tspan x="1639">intracellular</tspan><tspan x="1639" dy="15.3">organelle lumen</tspan></text></g>
<g id="n-postsynapse"><rect class="lb" x="1820" y="395.5" width="88" height="49"/><text x="1864" y="424.3">postsynapse</text></g>
<g id="n-n2n"><rect class="w" x="1932" y="395.5" width="117" height="49"/><text x="1990.5" y="416.65"><tspan x="1990.5">neuron to neuron</tspan><tspan x="1990.5" dy="15.3">synapse</tspan></text></g>
<g id="n-presynapse"><rect class="lb" x="2075" y="395.5" width="80" height="49"/><text x="2115" y="424.3">presynapse</text></g>
<g id="n-er"><rect class="lb" x="1118" y="500.5" width="89" height="49"/><text x="1162.5" y="521.65"><tspan x="1162.5">endoplasmic</tspan><tspan x="1162.5" dy="15.3">reticulum</tspan></text></g>
<g id="n-nucleus"><rect class="lb" x="1455" y="500.5" width="71" height="49"/><text x="1490.5" y="529.3">nucleus</text></g>
<g id="n-ribosome"><rect class="lb" x="1551" y="500.5" width="72" height="49"/><text x="1587" y="529.3">ribosome</text></g>
<g id="n-pss"><rect class="w" x="1816" y="500.5" width="96" height="49"/><text x="1864" y="521.65"><tspan x="1864">postsynaptic</tspan><tspan x="1864" dy="15.3">specialization</tspan></text></g>
<g id="n-asyn"><rect class="w" x="2232" y="500.5" width="141" height="49"/><text x="2302.5" y="529.3">asymmetric synapse</text></g>
<g id="n-cytrib"><rect class="lb" x="1250" y="612.5" width="128" height="49"/><text x="1314" y="641.3">cytosolic ribosome</text></g>
<g id="n-nl"><rect class="w" x="1509" y="612.5" width="98" height="49"/><text x="1558" y="641.3">nuclear lumen</text></g>
<g id="n-rsu"><rect class="w" x="1770" y="612.5" width="122" height="49"/><text x="1831" y="641.3">ribosomal subunit</text></g>
<g id="n-psd"><rect class="lb" x="2088" y="612.5" width="88" height="49"/><text x="2132" y="633.65"><tspan x="2132">postsynaptic</tspan><tspan x="2132" dy="15.3">density</tspan></text></g>
<g id="n-nucleolus"><rect class="lb" x="1463" y="724.5" width="71" height="49"/><text x="1498.5" y="753.3">nucleolus</text></g>
<g id="n-nucleoplasm"><rect class="lb" x="1574" y="724.5" width="89" height="49"/><text x="1618.5" y="753.3">nucleoplasm</text></g>
<g id="n-lrsu"><rect class="w" x="1717" y="724.5" width="107" height="49"/><text x="1770.5" y="745.65"><tspan x="1770.5">large ribosomal</tspan><tspan x="1770.5" dy="15.3">subunit</tspan></text></g>
<g id="n-clrsu"><rect class="cf" x="1442" y="844.5" width="122" height="49"/><text x="1503" y="865.65"><tspan x="1503">cytosolic large</tspan><tspan x="1503" dy="15.3">ribosomal subunit</tspan></text></g>
<g id="n-mcp"><rect class="w" x="2398" y="500.5" width="117" height="49"/><text x="2456.5" y="521.65"><tspan x="2456.5">macromolecule</tspan><tspan x="2456.5" dy="15.3">catabolic process</tspan></text></g>
<g id="n-pcatp"><rect class="w" x="2455" y="612.5" width="114" height="49"/><text x="2512" y="633.65"><tspan x="2512">protein catabolic</tspan><tspan x="2512" dy="15.3">process</tspan></text></g>
<g id="n-mdmcp"><rect class="w" x="2246" y="724.5" width="160" height="49"/><text x="2326" y="738"><tspan x="2326">modification-dependent</tspan><tspan x="2326" dy="15.3">macromolecule</tspan><tspan x="2326" dy="15.3">catabolic process</tspan></text></g>
<g id="n-pipcp"><rect class="w" x="2452" y="717" width="115" height="64"/><text x="2509.5" y="730.35"><tspan x="2509.5">proteolysis</tspan><tspan x="2509.5" dy="15.3">involved in</tspan><tspan x="2509.5" dy="15.3">protein catabolic</tspan><tspan x="2509.5" dy="15.3">process</tspan></text></g>
<g id="n-mdpcp"><rect class="w" x="2224" y="844.5" width="161" height="49"/><text x="2304.5" y="858"><tspan x="2304.5">modification-dependent</tspan><tspan x="2304.5" dy="15.3">protein catabolic</tspan><tspan x="2304.5" dy="15.3">process</tspan></text></g>
<g id="n-rpipcp"><rect class="w" x="2460" y="830" width="115" height="78"/><text x="2517.5" y="842.7"><tspan x="2517.5">regulation of</tspan><tspan x="2517.5" dy="15.3">proteolysis</tspan><tspan x="2517.5" dy="15.3">involved in</tspan><tspan x="2517.5" dy="15.3">protein catabolic</tspan><tspan x="2517.5" dy="15.3">process</tspan></text></g>
<g id="n-udpcp"><rect class="w" x="2290" y="972.5" width="136" height="49"/><text x="2358" y="986"><tspan x="2358">ubiquitin-dependent</tspan><tspan x="2358" dy="15.3">protein catabolic</tspan><tspan x="2358" dy="15.3">process</tspan></text></g>
<g id="n-nrpipcp"><rect class="w" x="2451" y="958" width="133" height="78"/><text x="2517.5" y="970.7"><tspan x="2517.5">negative regulation</tspan><tspan x="2517.5" dy="15.3">of proteolysis</tspan><tspan x="2517.5" dy="15.3">involved in</tspan><tspan x="2517.5" dy="15.3">protein catabolic</tspan><tspan x="2517.5" dy="15.3">process</tspan></text></g>
<g id="n-rudpcp"><rect class="w" x="2554" y="1085" width="137" height="64"/><text x="2622.5" y="1098.35"><tspan x="2622.5">regulation of</tspan><tspan x="2622.5" dy="15.3">ubiquitin-dependent</tspan><tspan x="2622.5" dy="15.3">protein catabolic</tspan><tspan x="2622.5" dy="15.3">process</tspan></text></g>
<g id="n-nrudpcp"><rect class="lb" x="2492" y="1197" width="154" height="64"/><text x="2569" y="1210.35"><tspan x="2569">negative regulation</tspan><tspan x="2569" dy="15.3">of ubiquitin-dependent</tspan><tspan x="2569" dy="15.3">protein catabolic</tspan><tspan x="2569" dy="15.3">process</tspan></text></g>
<g id="n-catp"><rect class="w" x="2794" y="296.5" width="118" height="49"/><text x="2853" y="325.3">catabolic process</text></g>
<g id="n-oscp"><rect class="w" x="2565" y="395.5" width="123" height="49"/><text x="2626.5" y="416.65"><tspan x="2626.5">organic substance</tspan><tspan x="2626.5" dy="15.3">catabolic process</tspan></text></g>
<g id="n-rcatp"><rect class="w" x="2745" y="395.5" width="118" height="49"/><text x="2804" y="416.65"><tspan x="2804">regulation of</tspan><tspan x="2804" dy="15.3">catabolic process</tspan></text></g>
<g id="n-nrmp"><rect class="w" x="3040" y="395.5" width="134" height="49"/><text x="3107" y="409"><tspan x="3107">negative regulation</tspan><tspan x="3107" dy="15.3">of metabolic</tspan><tspan x="3107" dy="15.3">process</tspan></text></g>
<g id="n-oncmp"><rect class="w" x="3469" y="395.5" width="142" height="49"/><text x="3540" y="409"><tspan x="3540">organonitrogen</tspan><tspan x="3540" dy="15.3">compound metabolic</tspan><tspan x="3540" dy="15.3">process</tspan></text></g>
<g id="n-mmp"><rect class="w" x="3637" y="395.5" width="124" height="49"/><text x="3699" y="416.65"><tspan x="3699">macromolecule</tspan><tspan x="3699" dy="15.3">metabolic process</tspan></text></g>
<g id="n-onccp"><rect class="w" x="2541" y="500.5" width="137" height="49"/><text x="2609.5" y="514"><tspan x="2609.5">organonitrogen</tspan><tspan x="2609.5" dy="15.3">compound catabolic</tspan><tspan x="2609.5" dy="15.3">process</tspan></text></g>
<g id="n-nrcatp"><rect class="w" x="2753" y="500.5" width="134" height="49"/><text x="2820" y="514"><tspan x="2820">negative regulation</tspan><tspan x="2820" dy="15.3">of catabolic</tspan><tspan x="2820" dy="15.3">process</tspan></text></g>
<g id="n-nrncmp"><rect class="w" x="2962" y="493" width="142" height="64"/><text x="3033" y="506.35"><tspan x="3033">negative regulation</tspan><tspan x="3033" dy="15.3">of nitrogen</tspan><tspan x="3033" dy="15.3">compound metabolic</tspan><tspan x="3033" dy="15.3">process</tspan></text></g>
<g id="n-mmod"><rect class="w" x="3180" y="500.5" width="107" height="49"/><text x="3233.5" y="521.65"><tspan x="3233.5">macromolecule</tspan><tspan x="3233.5" dy="15.3">modification</tspan></text></g>
<g id="n-pmp"><rect class="w" x="3312" y="500.5" width="120" height="49"/><text x="3372" y="521.65"><tspan x="3372">protein metabolic</tspan><tspan x="3372" dy="15.3">process</tspan></text></g>
<g id="n-rpmp"><rect class="w" x="3457" y="500.5" width="127" height="49"/><text x="3520.5" y="514"><tspan x="3520.5">regulation of</tspan><tspan x="3520.5" dy="15.3">primary metabolic</tspan><tspan x="3520.5" dy="15.3">process</tspan></text></g>
<g id="n-oncbp"><rect class="w" x="3608" y="500.5" width="157" height="49"/><text x="3686.5" y="514"><tspan x="3686.5">organonitrogen</tspan><tspan x="3686.5" dy="15.3">compound biosynthetic</tspan><tspan x="3686.5" dy="15.3">process</tspan></text></g>
<g id="n-proteolysis"><rect class="w" x="2625" y="612.5" width="78" height="49"/><text x="2664" y="641.3">proteolysis</text></g>
<g id="n-nrmmp"><rect class="w" x="3073" y="612.5" width="134" height="49"/><text x="3140" y="626"><tspan x="3140">negative regulation</tspan><tspan x="3140" dy="15.3">of macromolecule</tspan><tspan x="3140" dy="15.3">metabolic process</tspan></text></g>
<g id="n-pmodp"><rect class="w" x="3293" y="612.5" width="136" height="49"/><text x="3361" y="633.65"><tspan x="3361">protein modification</tspan><tspan x="3361" dy="15.3">process</tspan></text></g>
<g id="n-rprotmp"><rect class="w" x="3551" y="612.5" width="121" height="49"/><text x="3611.5" y="626"><tspan x="3611.5">regulation of</tspan><tspan x="3611.5" dy="15.3">protein metabolic</tspan><tspan x="3611.5" dy="15.3">process</tspan></text></g>
<g id="n-rprot"><rect class="w" x="2592" y="724.5" width="89" height="49"/><text x="2636.5" y="745.65"><tspan x="2636.5">regulation of</tspan><tspan x="2636.5" dy="15.3">proteolysis</tspan></text></g>
<g id="n-nrprotmp"><rect class="w" x="3023" y="724.5" width="139" height="49"/><text x="3092.5" y="738"><tspan x="3092.5">negative regulation</tspan><tspan x="3092.5" dy="15.3">of protein metabolic</tspan><tspan x="3092.5" dy="15.3">process</tspan></text></g>
<g id="n-pmspcr"><rect class="w" x="3187" y="717" width="135" height="64"/><text x="3254.5" y="730.35"><tspan x="3254.5">protein modification</tspan><tspan x="3254.5" dy="15.3">by small protein</tspan><tspan x="3254.5" dy="15.3">conjugation</tspan><tspan x="3254.5" dy="15.3">or removal</tspan></text></g>
<g id="n-rpmodp"><rect class="w" x="3399" y="724.5" width="138" height="49"/><text x="3468" y="738"><tspan x="3468">regulation of</tspan><tspan x="3468" dy="15.3">protein modification</tspan><tspan x="3468" dy="15.3">process</tspan></text></g>
<g id="n-nrprot"><rect class="w" x="2599" y="844.5" width="133" height="49"/><text x="2665.5" y="865.65"><tspan x="2665.5">negative regulation</tspan><tspan x="2665.5" dy="15.3">of proteolysis</tspan></text></g>
<g id="n-pmspc"><rect class="w" x="3155" y="844.5" width="136" height="49"/><text x="3223" y="858"><tspan x="3223">protein modification</tspan><tspan x="3223" dy="15.3">by small protein</tspan><tspan x="3223" dy="15.3">conjugation</tspan></text></g>
<g id="n-nrpmodp"><rect class="w" x="3317" y="844.5" width="154" height="49"/><text x="3394" y="858"><tspan x="3394">negative regulation</tspan><tspan x="3394" dy="15.3">of protein modification</tspan><tspan x="3394" dy="15.3">process</tspan></text></g>
<g id="n-rpmspcr"><rect class="w" x="3496" y="830" width="137" height="78"/><text x="3564.5" y="842.7"><tspan x="3564.5">regulation of</tspan><tspan x="3564.5" dy="15.3">protein modification</tspan><tspan x="3564.5" dy="15.3">by small protein</tspan><tspan x="3564.5" dy="15.3">conjugation</tspan><tspan x="3564.5" dy="15.3">or removal</tspan></text></g>
<g id="n-pnedd"><rect class="w" x="3156" y="972.5" width="133" height="49"/><text x="3222.5" y="1001.3">protein neddylation</text></g>
<g id="n-nrpmspcr"><rect class="w" x="3317" y="958" width="154" height="78"/><text x="3394" y="970.7"><tspan x="3394">negative regulation</tspan><tspan x="3394" dy="15.3">of protein modification</tspan><tspan x="3394" dy="15.3">by small protein</tspan><tspan x="3394" dy="15.3">conjugation</tspan><tspan x="3394" dy="15.3">or removal</tspan></text></g>
<g id="n-tas"><rect class="w" x="3567" y="972.5" width="78" height="49"/><text x="3606" y="993.65"><tspan x="3606">translation</tspan><tspan x="3606" dy="15.3">at synapse</tspan></text></g>
<g id="n-pubiq"><rect class="w" x="3668" y="972.5" width="147" height="49"/><text x="3741.5" y="1001.3">protein ubiquitination</text></g>
<g id="n-rpnedd"><rect class="w" x="3216" y="1092.5" width="134" height="49"/><text x="3283" y="1113.65"><tspan x="3283">regulation of</tspan><tspan x="3283" dy="15.3">protein neddylation</tspan></text></g>
<g id="n-tpost"><rect class="lb" x="3476" y="1092.5" width="104" height="49"/><text x="3528" y="1113.65"><tspan x="3528">translation</tspan><tspan x="3528" dy="15.3">at postsynapse</tspan></text></g>
<g id="n-tpre"><rect class="lb" x="3605" y="1092.5" width="99" height="49"/><text x="3654.5" y="1113.65"><tspan x="3654.5">translation</tspan><tspan x="3654.5" dy="15.3">at presynapse</tspan></text></g>
<g id="n-rpubiq"><rect class="w" x="3778" y="1092.5" width="148" height="49"/><text x="3852" y="1113.65"><tspan x="3852">regulation of</tspan><tspan x="3852" dy="15.3">protein ubiquitination</tspan></text></g>
<g id="n-nrpnedd"><rect class="lb" x="3208" y="1204.5" width="150" height="49"/><text x="3283" y="1225.65"><tspan x="3283">negative regulation</tspan><tspan x="3283" dy="15.3">of protein neddylation</tspan></text></g>
<g id="n-nrpubiq"><rect class="w" x="3715" y="1204.5" width="162" height="49"/><text x="3796" y="1225.65"><tspan x="3796">negative regulation</tspan><tspan x="3796" dy="15.3">of protein ubiquitination</tspan></text></g>
<g id="n-metp"><rect class="w" x="4308" y="198" width="126" height="49"/><text x="4371" y="226.8">metabolic process</text></g>
<g id="n-nrbp"><rect class="w" x="3831" y="296.5" width="132" height="49"/><text x="3897" y="310"><tspan x="3897">negative regulation</tspan><tspan x="3897" dy="15.3">of biological</tspan><tspan x="3897" dy="15.3">process</tspan></text></g>
<g id="n-osmp"><rect class="w" x="3988" y="296.5" width="126" height="49"/><text x="4051" y="317.65"><tspan x="4051">organic substance</tspan><tspan x="4051" dy="15.3">metabolic process</tspan></text></g>
<g id="n-ncmp"><rect class="w" x="4228" y="296.5" width="131" height="49"/><text x="4293.5" y="317.65"><tspan x="4293.5">nitrogen compound</tspan><tspan x="4293.5" dy="15.3">metabolic process</tspan></text></g>
<g id="n-rmetp"><rect class="w" x="4384" y="296.5" width="125" height="49"/><text x="4446.5" y="317.65"><tspan x="4446.5">regulation of</tspan><tspan x="4446.5" dy="15.3">metabolic process</tspan></text></g>
<g id="n-bsp"><rect class="w" x="4537" y="296.5" width="86" height="49"/><text x="4580" y="317.65"><tspan x="4580">biosynthetic</tspan><tspan x="4580" dy="15.3">process</tspan></text></g>
<g id="n-primp"><rect class="w" x="3786" y="395.5" width="126" height="49"/><text x="3849" y="416.65"><tspan x="3849">primary metabolic</tspan><tspan x="3849" dy="15.3">process</tspan></text></g>
<g id="n-osbp"><rect class="w" x="3989" y="395.5" width="123" height="49"/><text x="4050.5" y="409"><tspan x="4050.5">organic substance</tspan><tspan x="4050.5" dy="15.3">biosynthetic</tspan><tspan x="4050.5" dy="15.3">process</tspan></text></g>
<g id="n-rncmp"><rect class="w" x="4137" y="395.5" width="131" height="49"/><text x="4202.5" y="409"><tspan x="4202.5">regulation of</tspan><tspan x="4202.5" dy="15.3">nitrogen compound</tspan><tspan x="4202.5" dy="15.3">metabolic process</tspan></text></g>
<g id="n-amp"><rect class="w" x="4293" y="395.5" width="116" height="49"/><text x="4351" y="416.65"><tspan x="4351">amide metabolic</tspan><tspan x="4351" dy="15.3">process</tspan></text></g>
<g id="n-rbsp"><rect class="w" x="4536" y="395.5" width="88" height="49"/><text x="4580" y="409"><tspan x="4580">regulation of</tspan><tspan x="4580" dy="15.3">biosynthetic</tspan><tspan x="4580" dy="15.3">process</tspan></text></g>
<g id="n-cbsp"><rect class="w" x="4700" y="395.5" width="140" height="49"/><text x="4770" y="416.65"><tspan x="4770">cellular biosynthetic</tspan><tspan x="4770" dy="15.3">process</tspan></text></g>
<g id="n-occmp"><rect class="w" x="4864" y="395.5" width="142" height="49"/><text x="4935" y="409"><tspan x="4935">organic cyclic</tspan><tspan x="4935" dy="15.3">compound metabolic</tspan><tspan x="4935" dy="15.3">process</tspan></text></g>
<g id="n-pepmp"><rect class="w" x="3842" y="500.5" width="124" height="49"/><text x="3904" y="521.65"><tspan x="3904">peptide metabolic</tspan><tspan x="3904" dy="15.3">process</tspan></text></g>
<g id="n-rmmp"><rect class="w" x="4092" y="500.5" width="125" height="49"/><text x="4154.5" y="514"><tspan x="4154.5">regulation of</tspan><tspan x="4154.5" dy="15.3">macromolecule</tspan><tspan x="4154.5" dy="15.3">metabolic process</tspan></text></g>
<g id="n-mbsp"><rect class="w" x="4292" y="500.5" width="105" height="49"/><text x="4344.5" y="514"><tspan x="4344.5">macromolecule</tspan><tspan x="4344.5" dy="15.3">biosynthetic</tspan><tspan x="4344.5" dy="15.3">process</tspan></text></g>
<g id="n-ramp"><rect class="w" x="4425" y="500.5" width="114" height="49"/><text x="4482" y="514"><tspan x="4482">regulation of</tspan><tspan x="4482" dy="15.3">amide metabolic</tspan><tspan x="4482" dy="15.3">process</tspan></text></g>
<g id="n-prncmp"><rect class="w" x="4564" y="493" width="142" height="64"/><text x="4635" y="506.35"><tspan x="4635">positive regulation</tspan><tspan x="4635" dy="15.3">of nitrogen</tspan><tspan x="4635" dy="15.3">compound metabolic</tspan><tspan x="4635" dy="15.3">process</tspan></text></g>
<g id="n-prbsp"><rect class="w" x="4883" y="500.5" width="128" height="49"/><text x="4947" y="514"><tspan x="4947">positive regulation</tspan><tspan x="4947" dy="15.3">of biosynthetic</tspan><tspan x="4947" dy="15.3">process</tspan></text></g>
<g id="n-abp"><rect class="w" x="3797" y="612.5" width="131" height="49"/><text x="3862.5" y="633.65"><tspan x="3862.5">amide biosynthetic</tspan><tspan x="3862.5" dy="15.3">process</tspan></text></g>
<g id="n-ge"><rect class="w" x="4003" y="612.5" width="113" height="49"/><text x="4059.5" y="641.3">gene expression</text></g>
<g id="n-prmmp"><rect class="w" x="4312" y="612.5" width="128" height="49"/><text x="4376" y="626"><tspan x="4376">positive regulation</tspan><tspan x="4376" dy="15.3">of macromolecule</tspan><tspan x="4376" dy="15.3">metabolic process</tspan></text></g>
<g id="n-rmbsp"><rect class="w" x="4464" y="605" width="106" height="64"/><text x="4517" y="618.35"><tspan x="4517">regulation of</tspan><tspan x="4517" dy="15.3">macromolecule</tspan><tspan x="4517" dy="15.3">biosynthetic</tspan><tspan x="4517" dy="15.3">process</tspan></text></g>
<g id="n-pramp"><rect class="w" x="4747" y="612.5" width="133" height="49"/><text x="4813.5" y="626"><tspan x="4813.5">positive regulation</tspan><tspan x="4813.5" dy="15.3">of amide metabolic</tspan><tspan x="4813.5" dy="15.3">process</tspan></text></g>
<g id="n-pepbp"><rect class="w" x="3775" y="724.5" width="140" height="49"/><text x="3845" y="745.65"><tspan x="3845">peptide biosynthetic</tspan><tspan x="3845" dy="15.3">process</tspan></text></g>
<g id="n-rge"><rect class="w" x="4091" y="724.5" width="114" height="49"/><text x="4148" y="745.65"><tspan x="4148">regulation of</tspan><tspan x="4148" dy="15.3">gene expression</tspan></text></g>
<g id="n-prprotmp"><rect class="w" x="4229" y="724.5" width="139" height="49"/><text x="4298.5" y="738"><tspan x="4298.5">positive regulation</tspan><tspan x="4298.5" dy="15.3">of protein metabolic</tspan><tspan x="4298.5" dy="15.3">process</tspan></text></g>
<g id="n-prmbsp"><rect class="w" x="4544" y="717" width="128" height="64"/><text x="4608" y="730.35"><tspan x="4608">positive regulation</tspan><tspan x="4608" dy="15.3">of macromolecule</tspan><tspan x="4608" dy="15.3">biosynthetic</tspan><tspan x="4608" dy="15.3">process</tspan></text></g>
<g id="n-translation"><rect class="lb" x="3808" y="844.5" width="75" height="49"/><text x="3845.5" y="873.3">translation</text></g>
<g id="n-prge"><rect class="lb" x="4087" y="844.5" width="130" height="49"/><text x="4152" y="865.65"><tspan x="4152">positive regulation</tspan><tspan x="4152" dy="15.3">of gene expression</tspan></text></g>
<g id="n-ptrge"><rect class="w" x="4243" y="844.5" width="134" height="49"/><text x="4310" y="858"><tspan x="4310">post-transcriptional</tspan><tspan x="4310" dy="15.3">regulation of</tspan><tspan x="4310" dy="15.3">gene expression</tspan></text></g>
<g id="n-cyttrans"><rect class="lb" x="3889" y="972.5" width="86" height="49"/><text x="3932" y="993.65"><tspan x="3932">cytoplasmic</tspan><tspan x="3932" dy="15.3">translation</tspan></text></g>
<g id="n-rtrans"><rect class="w" x="4461" y="972.5" width="88" height="49"/><text x="4505" y="993.65"><tspan x="4505">regulation of</tspan><tspan x="4505" dy="15.3">translation</tspan></text></g>
<g id="n-prtrans"><rect class="lb" x="4442" y="1092.5" width="127" height="49"/><text x="4505.5" y="1113.65"><tspan x="4505.5">positive regulation</tspan><tspan x="4505.5" dy="15.3">of translation</tspan></text></g>
<g id="n-bp"><rect class="w" x="6137" y="5" width="126" height="49"/><text x="6200" y="26.15"><tspan x="6200">biological_process</tspan><tspan x="6200" dy="15.3">Rpl5</tspan></text></g>
<g id="n-breg"><rect class="w" x="6131" y="100.5" width="139" height="49"/><text x="6200.5" y="129.3">biological regulation</text></g>
<g id="n-rbq"><rect class="w" x="6051" y="198" width="118" height="49"/><text x="6110" y="219.15"><tspan x="6110">regulation of</tspan><tspan x="6110" dy="15.3">biological quality</tspan></text></g>
<g id="n-rbp"><rect class="w" x="6246" y="198" width="122" height="49"/><text x="6307" y="219.15"><tspan x="6307">regulation of</tspan><tspan x="6307" dy="15.3">biological process</tspan></text></g>
<g id="n-cellp"><rect class="w" x="6492" y="198" width="107" height="49"/><text x="6545.5" y="226.8">cellular process</text></g>
<g id="n-rts"><rect class="w" x="6789" y="198" width="83" height="49"/><text x="6830.5" y="219.15"><tspan x="6830.5">response to</tspan><tspan x="6830.5" dy="15.3">stimulus</tspan></text></g>
<g id="n-cmp"><rect class="w" x="5519" y="296.5" width="122" height="49"/><text x="5580" y="317.65"><tspan x="5580">cellular metabolic</tspan><tspan x="5580" dy="15.3">process</tspan></text></g>
<g id="n-prbp"><rect class="w" x="5908" y="296.5" width="127" height="49"/><text x="5971.5" y="310"><tspan x="5971.5">positive regulation</tspan><tspan x="5971.5" dy="15.3">of biological</tspan><tspan x="5971.5" dy="15.3">process</tspan></text></g>
<g id="n-rps"><rect class="w" x="6060" y="296.5" width="110" height="49"/><text x="6115" y="317.65"><tspan x="6115">regulation of</tspan><tspan x="6115" dy="15.3">protein stability</tspan></text></g>
<g id="n-rcp"><rect class="w" x="6346" y="296.5" width="108" height="49"/><text x="6400" y="317.65"><tspan x="6400">regulation of</tspan><tspan x="6400" dy="15.3">cellular process</tspan></text></g>
<g id="n-signaling"><rect class="w" x="6479" y="296.5" width="72" height="49"/><text x="6515" y="325.3">signaling</text></g>
<g id="n-cellcomm"><rect class="w" x="6576" y="296.5" width="133" height="49"/><text x="6642.5" y="325.3">cell communication</text></g>
<g id="n-rrts"><rect class="w" x="6786" y="296.5" width="89" height="49"/><text x="6830.5" y="310"><tspan x="6830.5">regulation of</tspan><tspan x="6830.5" dy="15.3">response to</tspan><tspan x="6830.5" dy="15.3">stimulus</tspan></text></g>
<g id="n-crts"><rect class="w" x="6900" y="296.5" width="117" height="49"/><text x="6958.5" y="317.65"><tspan x="6958.5">cellular response</tspan><tspan x="6958.5" dy="15.3">to stimulus</tspan></text></g>
<g id="n-ccob"><rect class="w" x="7057" y="296.5" width="131" height="49"/><text x="7122.5" y="310"><tspan x="7122.5">cellular component</tspan><tspan x="7122.5" dy="15.3">organization</tspan><tspan x="7122.5" dy="15.3">or biogenesis</tspan></text></g>
<g id="n-cncmp"><rect class="w" x="5030" y="395.5" width="142" height="49"/><text x="5101" y="409"><tspan x="5101">cellular nitrogen</tspan><tspan x="5101" dy="15.3">compound metabolic</tspan><tspan x="5101" dy="15.3">process</tspan></text></g>
<g id="n-prmetp"><rect class="w" x="5198" y="395.5" width="127" height="49"/><text x="5261.5" y="409"><tspan x="5261.5">positive regulation</tspan><tspan x="5261.5" dy="15.3">of metabolic</tspan><tspan x="5261.5" dy="15.3">process</tspan></text></g>
<g id="n-cacmp"><rect class="w" x="5350" y="395.5" width="143" height="49"/><text x="5421.5" y="409"><tspan x="5421.5">cellular aromatic</tspan><tspan x="5421.5" dy="15.3">compound metabolic</tspan><tspan x="5421.5" dy="15.3">process</tspan></text></g>
<g id="n-hmp"><rect class="w" x="5518" y="395.5" width="125" height="49"/><text x="5580.5" y="416.65"><tspan x="5580.5">heterocycle</tspan><tspan x="5580.5" dy="15.3">metabolic process</tspan></text></g>
<g id="n-rcmp"><rect class="w" x="5667" y="395.5" width="122" height="49"/><text x="5728" y="409"><tspan x="5728">regulation of</tspan><tspan x="5728" dy="15.3">cellular metabolic</tspan><tspan x="5728" dy="15.3">process</tspan></text></g>
<g id="n-phosmp"><rect class="w" x="5865" y="395.5" width="150" height="49"/><text x="5940" y="416.65"><tspan x="5940">phosphorus metabolic</tspan><tspan x="5940" dy="15.3">process</tspan></text></g>
<g id="n-pstab"><rect class="lb" x="6041" y="395.5" width="135" height="49"/><text x="6108.5" y="424.3">protein stabilization</text></g>
<g id="n-prcp"><rect class="w" x="6200" y="395.5" width="128" height="49"/><text x="6264" y="409"><tspan x="6264">positive regulation</tspan><tspan x="6264" dy="15.3">of cellular</tspan><tspan x="6264" dy="15.3">process</tspan></text></g>
<g id="n-rsig"><rect class="w" x="6404" y="395.5" width="88" height="49"/><text x="6448" y="416.65"><tspan x="6448">regulation of</tspan><tspan x="6448" dy="15.3">signaling</tspan></text></g>
<g id="n-rcc"><rect class="w" x="6517" y="395.5" width="134" height="49"/><text x="6584" y="416.65"><tspan x="6584">regulation of</tspan><tspan x="6584" dy="15.3">cell communication</tspan></text></g>
<g id="n-st"><rect class="w" x="6676" y="395.5" width="131" height="49"/><text x="6741.5" y="424.3">signal transduction</text></g>
<g id="n-ccb"><rect class="w" x="7057" y="395.5" width="131" height="49"/><text x="7122.5" y="416.65"><tspan x="7122.5">cellular component</tspan><tspan x="7122.5" dy="15.3">biogenesis</tspan></text></g>
<g id="n-cco"><rect class="w" x="7216" y="395.5" width="131" height="49"/><text x="7281.5" y="416.65"><tspan x="7281.5">cellular component</tspan><tspan x="7281.5" dy="15.3">organization</tspan></text></g>
<g id="n-cncbp"><rect class="w" x="5036" y="500.5" width="158" height="49"/><text x="5115" y="514"><tspan x="5115">cellular nitrogen</tspan><tspan x="5115" dy="15.3">compound biosynthetic</tspan><tspan x="5115" dy="15.3">process</tspan></text></g>
<g id="n-rcbp"><rect class="w" x="5269" y="500.5" width="138" height="49"/><text x="5338" y="514"><tspan x="5338">regulation of</tspan><tspan x="5338" dy="15.3">cellular biosynthetic</tspan><tspan x="5338" dy="15.3">process</tspan></text></g>
<g id="n-nbcmp"><rect class="w" x="5484" y="500.5" width="153" height="49"/><text x="5560.5" y="514"><tspan x="5560.5">nucleobase-containing</tspan><tspan x="5560.5" dy="15.3">compound metabolic</tspan><tspan x="5560.5" dy="15.3">process</tspan></text></g>
<g id="n-prcmp"><rect class="w" x="5662" y="500.5" width="127" height="49"/><text x="5725.5" y="514"><tspan x="5725.5">positive regulation</tspan><tspan x="5725.5" dy="15.3">of cellular</tspan><tspan x="5725.5" dy="15.3">metabolic process</tspan></text></g>
<g id="n-rphosmp"><rect class="w" x="5865" y="500.5" width="150" height="49"/><text x="5940" y="514"><tspan x="5940">regulation of</tspan><tspan x="5940" dy="15.3">phosphorus metabolic</tspan><tspan x="5940" dy="15.3">process</tspan></text></g>
<g id="n-pccmp"><rect class="w" x="6041" y="500.5" width="146" height="49"/><text x="6114" y="514"><tspan x="6114">phosphate-containing</tspan><tspan x="6114" dy="15.3">compound metabolic</tspan><tspan x="6114" dy="15.3">process</tspan></text></g>
<g id="n-rmf"><rect class="w" x="6319" y="500.5" width="128" height="49"/><text x="6383" y="521.65"><tspan x="6383">regulation of</tspan><tspan x="6383" dy="15.3">molecular function</tspan></text></g>
<g id="n-rst"><rect class="w" x="6577" y="500.5" width="131" height="49"/><text x="6642.5" y="521.65"><tspan x="6642.5">regulation of</tspan><tspan x="6642.5" dy="15.3">signal transduction</tspan></text></g>
<g id="n-ist"><rect class="w" x="6732" y="500.5" width="131" height="49"/><text x="6797.5" y="521.65"><tspan x="6797.5">intracellular</tspan><tspan x="6797.5" dy="15.3">signal transduction</tspan></text></g>
<g id="n-oo"><rect class="w" x="7047" y="500.5" width="152" height="49"/><text x="7123" y="529.3">organelle organization</text></g>
<g id="n-cca"><rect class="w" x="7223" y="500.5" width="130" height="49"/><text x="7288" y="521.65"><tspan x="7288">cellular component</tspan><tspan x="7288" dy="15.3">assembly</tspan></text></g>
<g id="n-pcco"><rect class="w" x="7377" y="500.5" width="147" height="49"/><text x="7450.5" y="521.65"><tspan x="7450.5">protein-containing</tspan><tspan x="7450.5" dy="15.3">complex organization</tspan></text></g>
<g id="n-namp"><rect class="w" x="5116" y="612.5" width="125" height="49"/><text x="5178.5" y="633.65"><tspan x="5178.5">nucleic acid</tspan><tspan x="5178.5" dy="15.3">metabolic process</tspan></text></g>
<g id="n-prcbp"><rect class="w" x="5275" y="605" width="128" height="64"/><text x="5339" y="618.35"><tspan x="5339">positive regulation</tspan><tspan x="5339" dy="15.3">of cellular</tspan><tspan x="5339" dy="15.3">biosynthetic</tspan><tspan x="5339" dy="15.3">process</tspan></text></g>
<g id="n-prphosmp"><rect class="w" x="5662" y="612.5" width="129" height="49"/><text x="5726.5" y="626"><tspan x="5726.5">positive regulation</tspan><tspan x="5726.5" dy="15.3">of phosphorus</tspan><tspan x="5726.5" dy="15.3">metabolic process</tspan></text></g>
<g id="n-rphatemp"><rect class="w" x="5866" y="612.5" width="143" height="49"/><text x="5937.5" y="626"><tspan x="5937.5">regulation of</tspan><tspan x="5937.5" dy="15.3">phosphate metabolic</tspan><tspan x="5937.5" dy="15.3">process</tspan></text></g>
<g id="n-dephos"><rect class="w" x="6033" y="612.5" width="127" height="49"/><text x="6096.5" y="641.3">dephosphorylation</text></g>
<g id="n-nrmf"><rect class="w" x="6184" y="612.5" width="133" height="49"/><text x="6250.5" y="626"><tspan x="6250.5">negative regulation</tspan><tspan x="6250.5" dy="15.3">of molecular</tspan><tspan x="6250.5" dy="15.3">function</tspan></text></g>
<g id="n-rca"><rect class="w" x="6341" y="612.5" width="115" height="49"/><text x="6398.5" y="633.65"><tspan x="6398.5">regulation of</tspan><tspan x="6398.5" dy="15.3">catalytic activity</tspan></text></g>
<g id="n-prmf"><rect class="w" x="6480" y="612.5" width="128" height="49"/><text x="6544" y="626"><tspan x="6544">positive regulation</tspan><tspan x="6544" dy="15.3">of molecular</tspan><tspan x="6544" dy="15.3">function</tspan></text></g>
<g id="n-rist"><rect class="w" x="6632" y="612.5" width="130" height="49"/><text x="6697" y="626"><tspan x="6697">regulation of</tspan><tspan x="6697" dy="15.3">intracellular</tspan><tspan x="6697" dy="15.3">signal transduction</tspan></text></g>
<g id="n-stp53"><rect class="w" x="6787" y="612.5" width="130" height="49"/><text x="6852" y="626"><tspan x="6852">signal transduction</tspan><tspan x="6852" dy="15.3">by p53 class</tspan><tspan x="6852" dy="15.3">mediator</tspan></text></g>
<g id="n-rnpcb"><rect class="w" x="6942" y="612.5" width="135" height="49"/><text x="7009.5" y="633.65"><tspan x="7009.5">ribonucleoprotein</tspan><tspan x="7009.5" dy="15.3">complex biogenesis</tspan></text></g>
<g id="n-oa"><rect class="w" x="7102" y="612.5" width="135" height="49"/><text x="7169.5" y="641.3">organelle assembly</text></g>
<g id="n-pcca"><rect class="w" x="7261" y="612.5" width="129" height="49"/><text x="7325.5" y="633.65"><tspan x="7325.5">protein-containing</tspan><tspan x="7325.5" dy="15.3">complex assembly</tspan></text></g>
<g id="n-rnpcso"><rect class="w" x="7414" y="612.5" width="121" height="49"/><text x="7474.5" y="626"><tspan x="7474.5">ribonucleoprotein</tspan><tspan x="7474.5" dy="15.3">complex subunit</tspan><tspan x="7474.5" dy="15.3">organization</tspan></text></g>
<g id="n-rnamp"><rect class="w" x="5128" y="724.5" width="102" height="49"/><text x="5179" y="745.65"><tspan x="5179">RNA metabolic</tspan><tspan x="5179" dy="15.3">process</tspan></text></g>
<g id="n-prphatemp"><rect class="w" x="5727" y="724.5" width="127" height="49"/><text x="5790.5" y="738"><tspan x="5790.5">positive regulation</tspan><tspan x="5790.5" dy="15.3">of phosphate</tspan><tspan x="5790.5" dy="15.3">metabolic process</tspan></text></g>
<g id="n-rdephos"><rect class="w" x="5931" y="724.5" width="126" height="49"/><text x="5994" y="745.65"><tspan x="5994">regulation of</tspan><tspan x="5994" dy="15.3">dephosphorylation</tspan></text></g>
<g id="n-rha"><rect class="w" x="6082" y="724.5" width="122" height="49"/><text x="6143" y="745.65"><tspan x="6143">regulation of</tspan><tspan x="6143" dy="15.3">hydrolase activity</tspan></text></g>
<g id="n-nrca"><rect class="w" x="6228" y="724.5" width="133" height="49"/><text x="6294.5" y="738"><tspan x="6294.5">negative regulation</tspan><tspan x="6294.5" dy="15.3">of catalytic</tspan><tspan x="6294.5" dy="15.3">activity</tspan></text></g>
<g id="n-prca"><rect class="w" x="6438" y="724.5" width="126" height="49"/><text x="6501" y="738"><tspan x="6501">positive regulation</tspan><tspan x="6501" dy="15.3">of catalytic</tspan><tspan x="6501" dy="15.3">activity</tspan></text></g>
<g id="n-rla"><rect class="w" x="6589" y="724.5" width="98" height="49"/><text x="6638" y="745.65"><tspan x="6638">regulation of</tspan><tspan x="6638" dy="15.3">ligase activity</tspan></text></g>
<g id="n-rstp53"><rect class="lb" x="6711" y="717" width="130" height="64"/><text x="6776" y="730.35"><tspan x="6776">regulation of</tspan><tspan x="6776" dy="15.3">signal transduction</tspan><tspan x="6776" dy="15.3">by p53 class</tspan><tspan x="6776" dy="15.3">mediator</tspan></text></g>
<g id="n-ribbio"><rect class="w" x="6866" y="724.5" width="141" height="49"/><text x="6936.5" y="753.3">ribosome biogenesis</text></g>
<g id="n-nmboa"><rect class="w" x="7082" y="724.5" width="167" height="49"/><text x="7165.5" y="745.65"><tspan x="7165.5">non-membrane-bounded</tspan><tspan x="7165.5" dy="15.3">organelle assembly</tspan></text></g>
<g id="n-rnpca"><rect class="w" x="7274" y="724.5" width="127" height="49"/><text x="7337.5" y="745.65"><tspan x="7337.5">ribonucleoprotein</tspan><tspan x="7337.5" dy="15.3">complex assembly</tspan></text></g>
<g id="n-rnaproc"><rect class="w" x="5090" y="844.5" width="108" height="49"/><text x="5144" y="873.3">RNA processing</text></g>
<g id="n-ncrnamp"><rect class="w" x="5223" y="844.5" width="117" height="49"/><text x="5281.5" y="865.65"><tspan x="5281.5">ncRNA metabolic</tspan><tspan x="5281.5" dy="15.3">process</tspan></text></g>
<g id="n-prdephos"><rect class="w" x="5820" y="844.5" width="145" height="49"/><text x="5892.5" y="865.65"><tspan x="5892.5">positive regulation</tspan><tspan x="5892.5" dy="15.3">of dephosphorylation</tspan></text></g>
<g id="n-rpa"><rect class="w" x="5989" y="844.5" width="89" height="49"/><text x="6033.5" y="858"><tspan x="6033.5">regulation of</tspan><tspan x="6033.5" dy="15.3">phosphatase</tspan><tspan x="6033.5" dy="15.3">activity</tspan></text></g>
<g id="n-prha"><rect class="w" x="6103" y="844.5" width="128" height="49"/><text x="6167" y="858"><tspan x="6167">positive regulation</tspan><tspan x="6167" dy="15.3">of hydrolase</tspan><tspan x="6167" dy="15.3">activity</tspan></text></g>
<g id="n-prla"><rect class="w" x="6436" y="844.5" width="128" height="49"/><text x="6500" y="865.65"><tspan x="6500">positive regulation</tspan><tspan x="6500" dy="15.3">of ligase activity</tspan></text></g>
<g id="n-raa"><rect class="w" x="6639" y="844.5" width="111" height="49"/><text x="6694.5" y="858"><tspan x="6694.5">regulation of</tspan><tspan x="6694.5" dy="15.3">aminoacyl-tRNA</tspan><tspan x="6694.5" dy="15.3">ligase activity</tspan></text></g>
<g id="n-rlsb"><rect class="lb" x="6946" y="844.5" width="127" height="49"/><text x="7009.5" y="865.65"><tspan x="7009.5">ribosomal large</tspan><tspan x="7009.5" dy="15.3">subunit biogenesis</tspan></text></g>
<g id="n-ribasm"><rect class="w" x="7098" y="844.5" width="135" height="49"/><text x="7165.5" y="873.3">ribosome assembly</text></g>
<g id="n-ncrnap"><rect class="w" x="5152" y="972.5" width="123" height="49"/><text x="5213.5" y="1001.3">ncRNA processing</text></g>
<g id="n-rrnamp"><rect class="w" x="5300" y="972.5" width="107" height="49"/><text x="5353.5" y="993.65"><tspan x="5353.5">rRNA metabolic</tspan><tspan x="5353.5" dy="15.3">process</tspan></text></g>
<g id="n-prpa"><rect class="lb" x="5969" y="972.5" width="129" height="49"/><text x="6033.5" y="986"><tspan x="6033.5">positive regulation</tspan><tspan x="6033.5" dy="15.3">of phosphatase</tspan><tspan x="6033.5" dy="15.3">activity</tspan></text></g>
<g id="n-rtla"><rect class="w" x="6436" y="972.5" width="107" height="49"/><text x="6489.5" y="986"><tspan x="6489.5">regulation of</tspan><tspan x="6489.5" dy="15.3">threonine-tRNA</tspan><tspan x="6489.5" dy="15.3">ligase activity</tspan></text></g>
<g id="n-prala"><rect class="w" x="6568" y="972.5" width="128" height="49"/><text x="6632" y="986"><tspan x="6632">positive regulation</tspan><tspan x="6632" dy="15.3">of aminoacyl-tRNA</tspan><tspan x="6632" dy="15.3">ligase activity</tspan></text></g>
<g id="n-rila"><rect class="w" x="6721" y="972.5" width="110" height="49"/><text x="6776" y="986"><tspan x="6776">regulation of</tspan><tspan x="6776" dy="15.3">isoleucine-tRNA</tspan><tspan x="6776" dy="15.3">ligase activity</tspan></text></g>
<g id="n-rmla"><rect class="w" x="6856" y="972.5" width="118" height="49"/><text x="6915" y="986"><tspan x="6915">regulation of</tspan><tspan x="6915" dy="15.3">methionine-tRNA</tspan><tspan x="6915" dy="15.3">ligase activity</tspan></text></g>
<g id="n-rlsa"><rect class="lb" x="7106" y="972.5" width="119" height="49"/><text x="7165.5" y="993.65"><tspan x="7165.5">ribosomal large</tspan><tspan x="7165.5" dy="15.3">subunit assembly</tspan></text></g>
<g id="n-rrnap"><rect class="lb" x="5296" y="1092.5" width="114" height="49"/><text x="5353" y="1121.3">rRNA processing</text></g>
<g id="n-rta"><rect class="w" x="6358" y="1092.5" width="89" height="49"/><text x="6402.5" y="1106"><tspan x="6402.5">regulation of</tspan><tspan x="6402.5" dy="15.3">transferase</tspan><tspan x="6402.5" dy="15.3">activity</tspan></text></g>
<g id="n-prtla"><rect class="lb" x="6510" y="1092.5" width="128" height="49"/><text x="6574" y="1106"><tspan x="6574">positive regulation</tspan><tspan x="6574" dy="15.3">of threonine-tRNA</tspan><tspan x="6574" dy="15.3">ligase activity</tspan></text></g>
<g id="n-prila"><rect class="lb" x="6680" y="1092.5" width="128" height="49"/><text x="6744" y="1106"><tspan x="6744">positive regulation</tspan><tspan x="6744" dy="15.3">of isoleucine-tRNA</tspan><tspan x="6744" dy="15.3">ligase activity</tspan></text></g>
<g id="n-prmla"><rect class="lb" x="6843" y="1092.5" width="133" height="49"/><text x="6909.5" y="1106"><tspan x="6909.5">positive regulation</tspan><tspan x="6909.5" dy="15.3">of methionine-tRNA</tspan><tspan x="6909.5" dy="15.3">ligase activity</tspan></text></g>
<g id="n-nrta"><rect class="w" x="6220" y="1204.5" width="133" height="49"/><text x="6286.5" y="1218"><tspan x="6286.5">negative regulation</tspan><tspan x="6286.5" dy="15.3">of transferase</tspan><tspan x="6286.5" dy="15.3">activity</tspan></text></g>
<g id="n-rupta"><rect class="w" x="6377" y="1197" width="114" height="64"/><text x="6434" y="1210.35"><tspan x="6434">regulation of</tspan><tspan x="6434" dy="15.3">ubiquitin-protein</tspan><tspan x="6434" dy="15.3">transferase</tspan><tspan x="6434" dy="15.3">activity</tspan></text></g>
<g id="n-nrupta"><rect class="w" x="6220" y="1309" width="133" height="64"/><text x="6286.5" y="1322.35"><tspan x="6286.5">negative regulation</tspan><tspan x="6286.5" dy="15.3">of ubiquitin-protein</tspan><tspan x="6286.5" dy="15.3">transferase</tspan><tspan x="6286.5" dy="15.3">activity</tspan></text></g>
<g id="n-rupla"><rect class="w" x="6378" y="1316.5" width="113" height="49"/><text x="6434.5" y="1330"><tspan x="6434.5">regulation of</tspan><tspan x="6434.5" dy="15.3">ubiquitin protein</tspan><tspan x="6434.5" dy="15.3">ligase activity</tspan></text></g>
<g id="n-nrupla"><rect class="lb" x="6293" y="1421" width="133" height="64"/><text x="6359.5" y="1434.35"><tspan x="6359.5">negative regulation</tspan><tspan x="6359.5" dy="15.3">of ubiquitin</tspan><tspan x="6359.5" dy="15.3">protein ligase</tspan><tspan x="6359.5" dy="15.3">activity</tspan></text></g>
</svg>
